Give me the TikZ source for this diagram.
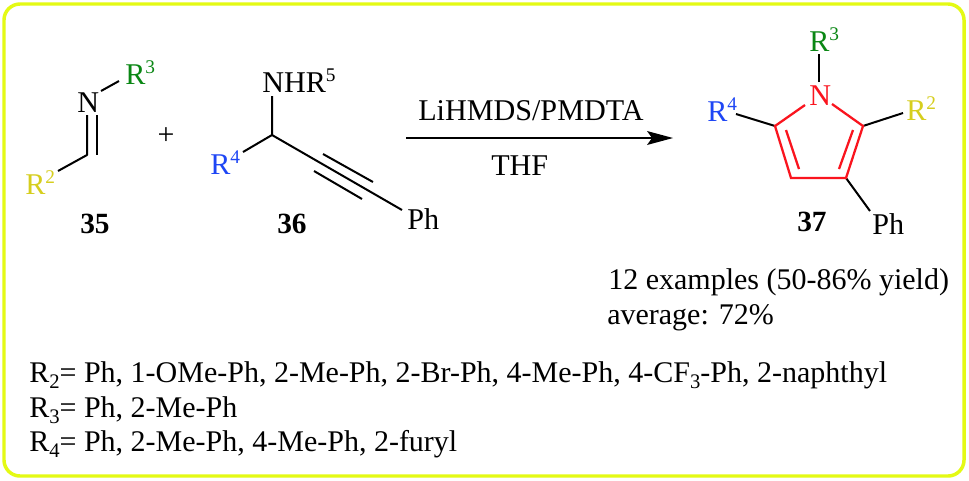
\documentclass[tikz,border=0pt]{standalone}
\usepackage{fontspec}
\setmainfont{Liberation Serif}
\definecolor{frameY}{RGB}{228,250,20}
\definecolor{rtwo}{RGB}{214,206,30}
\definecolor{rthree}{RGB}{10,135,20}
\definecolor{rfour}{RGB}{30,70,245}
\definecolor{ringred}{RGB}{250,20,30}
\newcommand{\supr}[1]{\raisebox{8pt}{\fontsize{14.5}{16}\selectfont #1}}
\newcommand{\subr}[1]{\raisebox{-4.6pt}{\fontsize{15.5}{16}\selectfont #1}}
\tikzset{
 lab/.style={inner sep=0pt,anchor=base west,font=\fontsize{22.6}{26}\selectfont},
 bnum/.style={inner sep=0pt,anchor=base west,font=\fontsize{22}{26}\selectfont\bfseries},
 txt/.style={inner sep=0pt,anchor=base west,font=\fontsize{22.5}{26}\selectfont},
 bond/.style={line width=1.5pt,black},
 rbond/.style={line width=1.7pt,ringred}
}
\begin{document}
\begin{tikzpicture}[x=0.75pt,y=-0.75pt]
\useasboundingbox (0,0) rectangle (969,480);
\fill[white] (0,0) rectangle (969,480);
\draw[frameY,line width=2.6pt,rounded corners=12pt] (4,4) rectangle (964,476);
% 35
\node[lab] (n35) at (77,112) {N};
\node[lab,text=rthree] (r3a) at (125,84) {R\supr{3}};
\node[lab,text=rtwo] (r2a) at (25,194) {R\supr{2}};
\coordinate (c35) at (87,155);
\coordinate (d1a) at (87,115); \coordinate (d1b) at (97,115);
\coordinate (d2b) at (97,155);
\coordinate (n35r) at (101,91); \coordinate (r3al) at (119,81);
\coordinate (r2ar) at (58,171);
\draw[bond] (n35r) -- (r3al);
\draw[bond,line join=round] (d1a) -- (c35) -- (r2ar);
\draw[bond] (d1b) -- (d2b);
\node[bnum] (l35) at (80,233) {35};
\node[inner sep=0pt,font=\fontsize{22.4}{26}\selectfont] (plus) at (166,136) {+};
% 36
\node[lab] (nhr) at (262,92) {NHR\supr{5}};
\node[lab,text=rfour] (r4a) at (210,174) {R\supr{4}};
\node[lab] (ph36) at (407,229) {Ph};
\coordinate (c36) at (272,135);
\coordinate (nhrb) at (272,96);
\coordinate (r4ar) at (243,152);
\coordinate (phl) at (402,210);
\coordinate (t1a) at (323,154); \coordinate (t1b) at (373,182);
\coordinate (t2a) at (314,171); \coordinate (t2b) at (362,199);
\draw[bond,line join=round] (nhrb) -- (c36) -- (phl);
\draw[bond] (c36) -- (r4ar);
\draw[bond] (t1a) -- (t1b);
\draw[bond] (t2a) -- (t2b);
\node[bnum] (l36) at (277,233) {36};
% arrow
\coordinate (arrA) at (406,138); \coordinate (arrB) at (673,138);
\coordinate (arrN) at (652,138);
\draw[line width=1.5pt] (arrA) -- (arrN);
\fill (arrB) -- (647,131) -- (arrN) -- (647,145) -- cycle;
\node[lab] (cond1) at (418,120) {LiHMDS/PMDTA};
\node[lab] (cond2) at (491,175) {THF};
% 37
\node[lab,text=ringred] (n37) at (809,105) {N};
\node[lab,text=rthree] (r3b) at (809,51) {R\supr{3}};
\node[lab,text=rfour] (r4b) at (707,121) {R\supr{4}};
\node[lab,text=rtwo] (r2b) at (906,120) {R\supr{2}};
\node[lab] (ph37) at (872,234) {Ph};
\coordinate (c5) at (775,126); \coordinate (c4) at (791,178);
\coordinate (c3) at (846,178); \coordinate (c2) at (863,126);
\coordinate (nl) at (805,105); \coordinate (nr) at (832,104);
\coordinate (i1a) at (786,130); \coordinate (i1b) at (799,169);
\coordinate (i2a) at (853,130); \coordinate (i2b) at (839,169);
\coordinate (nt) at (819,82); \coordinate (r3bb) at (819,54);
\coordinate (r4br) at (736,114); \coordinate (r2bl) at (903,113);
\coordinate (phb) at (870,211);
\draw[bond] (nt) -- (r3bb);
\draw[bond] (c5) -- (r4br);
\draw[bond] (c2) -- (r2bl);
\draw[bond] (c3) -- (phb);
\draw[rbond,line join=miter] (nl) -- (c5) -- (c4) -- (c3) -- (c2) -- (nr);
\draw[rbond] (i1a) -- (i1b);
\draw[rbond] (i2a) -- (i2b);
\node[bnum] (l37) at (797,231) {37};
% text
\node[txt] (t1) at (608,289) {12 examples (50-86\% yield)};
\node[txt] (t2) at (607,324) {average: 72\%};
\node[txt] (t3) at (29,382) {R\subr{2}= Ph, 1-OMe-Ph, 2-Me-Ph, 2-Br-Ph, 4-Me-Ph, 4-CF\subr{3}-Ph, 2-naphthyl};
\node[txt] (t4) at (29,417) {R\subr{3}= Ph, 2-Me-Ph};
\node[txt] (t5) at (29,451) {R\subr{4}= Ph, 2-Me-Ph, 4-Me-Ph, 2-furyl};
\end{tikzpicture}
\end{document}
